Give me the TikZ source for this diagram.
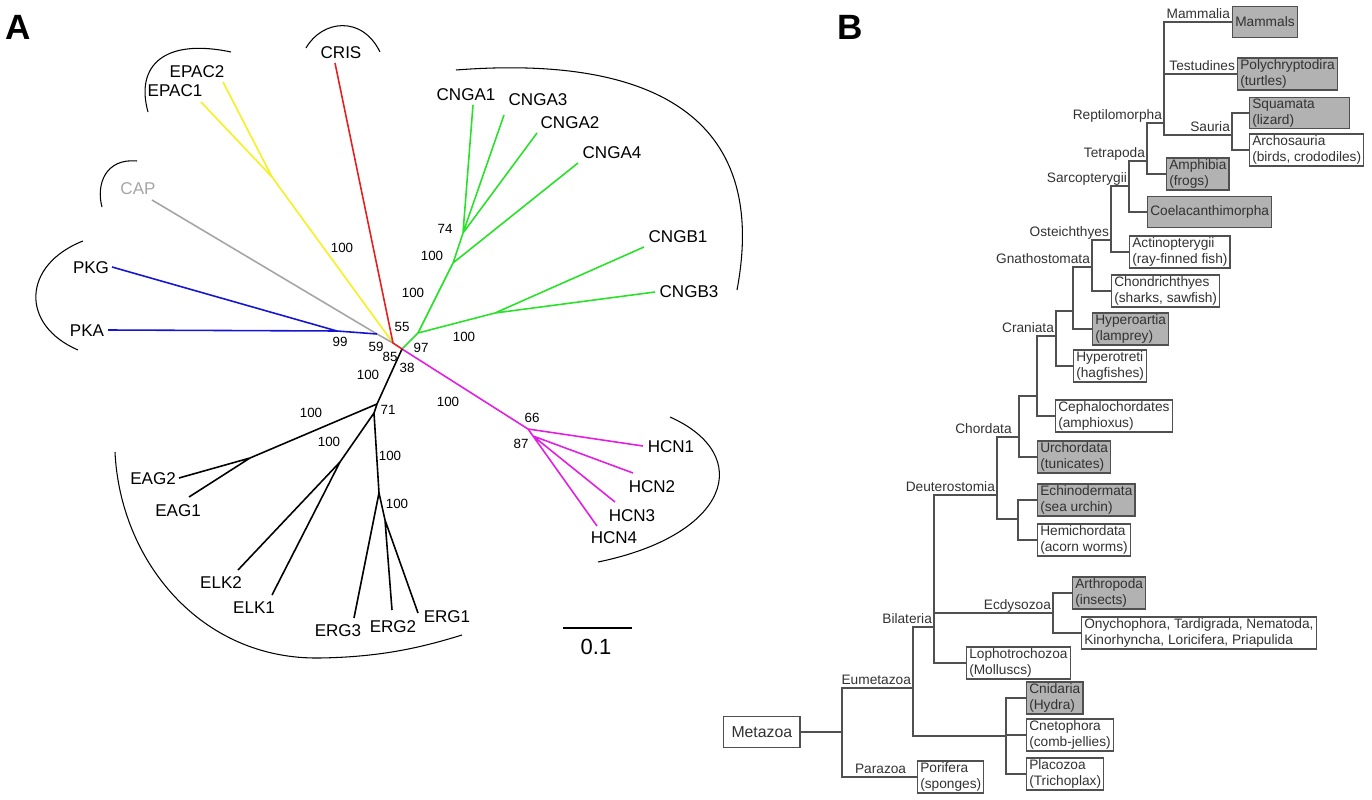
\documentclass[tikz,border=0pt]{standalone}
\usepackage{fontspec}
\setmainfont{Liberation Sans}
\definecolor{crisred}{RGB}{230,30,30}
\definecolor{epacyel}{RGB}{245,240,30}
\definecolor{capgray}{RGB}{165,165,165}
\definecolor{pkblue}{RGB}{20,20,210}
\definecolor{cnggreen}{RGB}{40,225,40}
\definecolor{hcnmag}{RGB}{225,30,225}
\definecolor{linegray}{RGB}{80,80,80}
\definecolor{txtgray}{RGB}{50,50,50}
\definecolor{boxgray}{RGB}{178,178,178}

\begin{document}
\begin{tikzpicture}[x=0.02cm,y=-0.02cm,
  br/.style={line width=0.9pt},
  brk/.style={line width=0.6pt},
  leaf/.style={font=\fontsize{9.7}{11}\selectfont, inner sep=0pt},
  boot/.style={font=\fontsize{7.6}{9}\selectfont, inner sep=0pt},
  panel/.style={font=\fontsize{20}{24}\selectfont\bfseries, inner sep=0pt},
  clade/.style={draw=linegray, line width=0.7pt},
  taxon/.style={draw=linegray, line width=0.7pt, fill=white, anchor=west, align=left,
    inner xsep=1.5pt, inner ysep=1pt, minimum height=18pt,
    font=\fontsize{7.8}{9}\selectfont, text=txtgray},
  shaded/.style={taxon, fill=boxgray},
  grp/.style={anchor=base east, font=\fontsize{7.8}{9}\selectfont, text=txtgray,
    inner sep=0pt, xshift=-1pt, yshift=2pt}]
\useasboundingbox (0,0) rectangle (1372,800);

\node[panel] (pA) at (18,27) {A};
\node[panel] (pB) at (850,27) {B};

% tree A: inner nodes and tips
\coordinate (cl) at (393,343);
\coordinate (cr) at (402,349);
\coordinate (epn) at (272,177);
\coordinate (capn) at (377,334);
\coordinate (pkn) at (337,331);
\coordinate (g1) at (418,333);
\coordinate (gb) at (495,313);
\coordinate (ga) at (453,263);
\coordinate (ga2) at (463,233);
\coordinate (hn) at (528,429);
\coordinate (hn2) at (533,436);
\coordinate (kn) at (377,404);
\coordinate (kn2) at (374,413);
\coordinate (eagn) at (250,458);
\coordinate (elkn) at (340,462);
\coordinate (ergn) at (379,493);
\coordinate (ergn2) at (385,520);

\coordinate (t-epac1) at (201,102);
\coordinate (t-epac2) at (223,82);
\coordinate (t-cris) at (335,63);
\coordinate (t-cap) at (152,200);
\coordinate (t-pkg) at (112,267);
\coordinate (t-pka) at (108,330);
\coordinate (t-cnga1) at (473,105);
\coordinate (t-cnga3) at (504,115);
\coordinate (t-cnga2) at (537,133);
\coordinate (t-cnga4) at (578,163);
\coordinate (t-cngb1) at (644,247);
\coordinate (t-cngb3) at (655,292);
\coordinate (t-hcn1) at (643,446);
\coordinate (t-hcn2) at (633,473);
\coordinate (t-hcn3) at (615,502);
\coordinate (t-hcn4) at (597,526);
\coordinate (t-eag2) at (179,478);
\coordinate (t-eag1) at (189,497);
\coordinate (t-elk2) at (238,570);
\coordinate (t-elk1) at (272,595);
\coordinate (t-erg3) at (354,618);
\coordinate (t-erg2) at (392,610);
\coordinate (t-erg1) at (418,613);

\draw[br, epacyel] (t-epac1) -- (epn) -- (cl) (t-epac2) -- (epn);
\draw[br, capgray] (t-cap) -- (capn) -- (cl);
\draw[br, pkblue] (t-pka) -- (pkn) (t-pkg) -- (pkn) -- (capn);
\draw[br, cnggreen] (cr) -- (g1) -- (gb) -- (t-cngb1) (gb) -- (t-cngb3)
  (g1) -- (ga) -- (t-cnga4) (ga) -- (ga2) -- (t-cnga1) (ga2) -- (t-cnga3) (ga2) -- (t-cnga2);
\draw[br, hcnmag] (cr) -- (hn) -- (t-hcn1) (hn) -- (hn2) -- (t-hcn2) (hn2) -- (t-hcn3) (hn2) -- (t-hcn4);
\draw[br] (cr) -- (kn) -- (eagn) -- (t-eag2) (eagn) -- (t-eag1)
  (kn) -- (kn2) -- (elkn) -- (t-elk2) (elkn) -- (t-elk1)
  (kn2) -- (ergn) -- (t-erg3) (ergn) -- (ergn2) -- (t-erg2) (ergn2) -- (t-erg1);
\draw[br, crisred] (t-cris) -- (cl) -- (cr);

\node[leaf] (epac2) at (197,72) {EPAC2};
\node[leaf] (epac1) at (175,91) {EPAC1};
\node[leaf] (cris) at (341,53) {CRIS};
\node[leaf, text=capgray] (cap) at (138,189) {CAP};
\node[leaf] (pkg) at (91,268) {PKG};
\node[leaf] (pka) at (87,331) {PKA};
\node[leaf] (cnga1) at (466,95) {CNGA1};
\node[leaf] (cnga3) at (538,100) {CNGA3};
\node[leaf] (cnga2) at (570,123) {CNGA2};
\node[leaf] (cnga4) at (612,153) {CNGA4};
\node[leaf] (cngb1) at (678,237) {CNGB1};
\node[leaf] (cngb3) at (689,292) {CNGB3};
\node[leaf] (hcn1) at (671,447) {HCN1};
\node[leaf] (hcn2) at (652,487) {HCN2};
\node[leaf] (hcn3) at (632,516) {HCN3};
\node[leaf] (hcn4) at (614,538) {HCN4};
\node[leaf] (eag2) at (153,479) {EAG2};
\node[leaf] (eag1) at (178,511) {EAG1};
\node[leaf] (elk2) at (221,583) {ELK2};
\node[leaf] (elk1) at (254,608) {ELK1};
\node[leaf] (erg3) at (338,631) {ERG3};
\node[leaf] (erg2) at (393,627) {ERG2};
\node[leaf] (erg1) at (447,617) {ERG1};

% bootstrap values
\node[boot] (bs1) at (342,248) {100};
\node[boot] (bs2) at (402,327) {55};
\node[boot] (bs3) at (340,342) {99};
\node[boot] (bs4) at (376,347) {59};
\node[boot] (bs5) at (390,357) {85};
\node[boot] (bs6) at (407,368) {38};
\node[boot] (bs7) at (421,348) {97};
\node[boot] (bs8) at (368,375) {100};
\node[boot] (bs9) at (413,293) {100};
\node[boot] (bs10) at (432,256) {100};
\node[boot] (bs11) at (445,229) {74};
\node[boot] (bs12) at (464,337) {100};
\node[boot] (bs13) at (448,402) {100};
\node[boot] (bs14) at (532,418) {66};
\node[boot] (bs15) at (521,444) {87};
\node[boot] (bs16) at (388,410) {71};
\node[boot] (bs17) at (311,413) {100};
\node[boot] (bs18) at (329,442) {100};
\node[boot] (bs19) at (390,456) {100};
\node[boot] (bs20) at (397,504) {100};

% group brackets
\draw[brk] (306,48) .. controls (322,20) and (362,15) .. (380,52);
\draw[brk] (231,52) .. controls (165,38) and (135,65) .. (148,112);
\draw[brk] (137,161) .. controls (105,158) and (96,185) .. (102,207);
\draw[brk] (83,241) .. controls (22,265) and (20,325) .. (78,350);
\draw[brk] (456,70) .. controls (650,55) and (770,115) .. (737,290);
\draw[brk] (670,417) .. controls (755,455) and (730,535) .. (598,562);
\draw[brk] (115,452) .. controls (120,560) and (200,660) .. (320,658)
  .. controls (380,657) and (420,648) .. (462,635);

% scale bar
\coordinate (sb1) at (563,628);
\coordinate (sb2) at (632,628);
\draw[line width=1.2pt] (sb1) -- (sb2);
\node[font=\fontsize{12.5}{14}\selectfont, inner sep=0pt] (sbl) at (596,647) {0.1};

% tree B
\node[shaded] (mam) at (1232,22) {Mammals};
\node[shaded] (pol) at (1237,74) {Polychryptodira\\(turtles)};
\node[shaded, text width=54pt] (squ) at (1249,113) {Squamata\\(lizard)};
\node[taxon] (arc) at (1249,150) {Archosauria\\(birds, crododiles)};
\node[shaded] (amp) at (1166,174) {Amphibia\\(frogs)};
\node[shaded] (coe) at (1147,212) {Coelacanthimorpha};
\node[taxon] (act) at (1129,252) {Actinopterygii\\(ray-finned fish)};
\node[taxon] (cho) at (1111,291) {Chondrichthyes\\(sharks, sawfish)};
\node[shaded] (hoa) at (1092,329) {Hyperoartia\\(lamprey)};
\node[taxon] (hot) at (1073,366) {Hyperotreti\\(hagfishes)};
\node[taxon] (cep) at (1055,416) {Cephalochordates\\(amphioxus)};
\node[shaded] (uro) at (1037,457) {Urchordata\\(tunicates)};
\node[shaded] (ech) at (1037,500) {Echinodermata\\(sea urchin)};
\node[taxon] (hem) at (1037,540) {Hemichordata\\(acorn worms)};
\node[shaded] (art) at (1072,593) {Arthropoda\\(insects)};
\node[taxon] (ony) at (1081,633) {Onychophora, Tardigrada, Nematoda,\\Kinorhyncha, Loricifera, Priapulida};
\node[taxon] (lop) at (966,663) {Lophotrochozoa\\(Molluscs)};
\node[shaded] (cni) at (1026,698) {Cnidaria\\(Hydra)};
\node[taxon] (cte) at (1026,735) {Cnetophora\\(comb-jellies)};
\node[taxon] (pla) at (1026,774) {Placozoa\\(Trichoplax)};
\node[taxon] (por) at (917,777) {Porifera\\(sponges)};
\node[taxon, font=\fontsize{9}{11}\selectfont, inner xsep=4.5pt] (met) at (723,732) {Metazoa};

\coordinate (amn) at (1164,123);
\coordinate (sau) at (1232,135);
\coordinate (tet) at (1147,161);
\coordinate (sar) at (1129,186);
\coordinate (ost) at (1111,240);
\coordinate (gna) at (1092,267);
\coordinate (ver) at (1073,311);
\coordinate (cra) at (1056,336);
\coordinate (olf) at (1037,396);
\coordinate (chd) at (1019,437);
\coordinate (amb) at (1018,519);
\coordinate (deu) at (997,495);
\coordinate (ecd) at (1053,613);
\coordinate (bil) at (934,627);
\coordinate (cnp) at (1006,736);
\coordinate (eum) at (913,688);
\coordinate (mtz) at (842,732);

\draw[clade] (amn) |- (mam.west) (amn) |- (pol.west) (amn) |- (sau);
\draw[clade] (sau) |- (squ.west) (sau) |- (arc.west);
\draw[clade] (tet) |- (amn) (tet) |- (amp.west);
\draw[clade] (sar) |- (tet) (sar) |- (coe.west);
\draw[clade] (ost) |- (sar) (ost) |- (act.west);
\draw[clade] (gna) |- (ost) (gna) |- (cho.west);
\draw[clade] (ver) |- (gna) (ver) |- (hoa.west);
\draw[clade] (cra) |- (ver) (cra) |- (hot.west);
\draw[clade] (olf) |- (cra) (olf) |- (cep.west);
\draw[clade] (chd) |- (olf) (chd) |- (uro.west);
\draw[clade] (amb) |- (ech.west) (amb) |- (hem.west);
\draw[clade] (deu) |- (chd) (deu) |- (amb);
\draw[clade] (ecd) |- (art.west) (ecd) |- (ony.west);
\draw[clade] (bil) |- (deu) (bil) |- (ecd) (bil) |- (lop.west);
\draw[clade] (cnp) |- (cni.west) (cnp) |- (cte.west) (cnp) |- (pla.west);
\draw[clade] (eum) |- (bil) (eum) |- (cnp);
\draw[clade] (mtz) |- (eum) (mtz) |- (por.west) (met.east) -- (mtz);

\node[grp] (l-mam) at (mam.west) {Mammalia};
\node[grp] (l-tes) at (pol.west) {Testudines};
\node[grp] (l-rep) at (amn) {Reptilomorpha};
\node[grp] (l-sau) at (sau) {Sauria};
\node[grp] (l-tet) at (tet) {Tetrapoda};
\node[grp] (l-sar) at (sar) {Sarcopterygii};
\node[grp] (l-ost) at (ost) {Osteichthyes};
\node[grp] (l-gna) at (gna) {Gnathostomata};
\node[grp] (l-cra) at (cra) {Craniata};
\node[grp, xshift=-3pt] (l-chd) at (chd) {Chordata};
\node[grp] (l-deu) at (deu) {Deuterostomia};
\node[grp] (l-bil) at (bil) {Bilateria};
\node[grp] (l-ecd) at (ecd) {Ecdysozoa};
\node[grp] (l-eum) at (eum) {Eumetazoa};
\node[grp, xshift=-5pt] (l-par) at (por.west) {Parazoa};
\end{tikzpicture}
\end{document}
